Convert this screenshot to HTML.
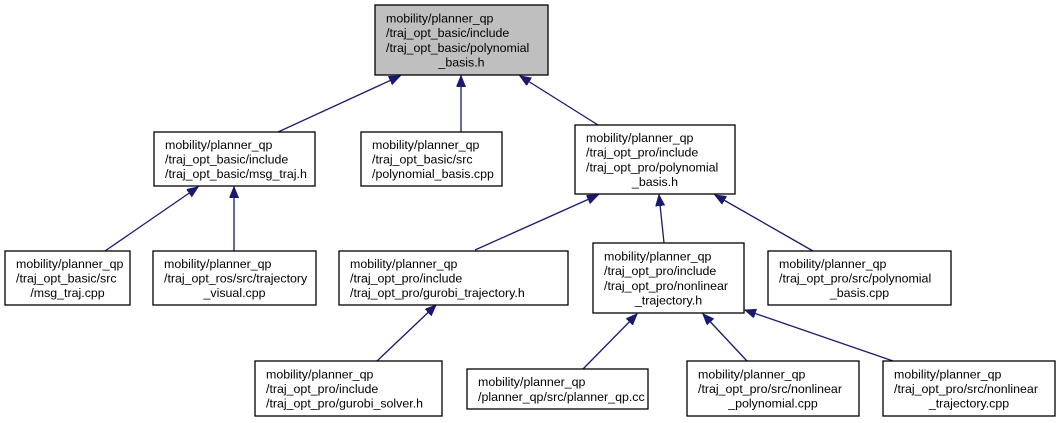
<!DOCTYPE html>
<html><head><meta charset="utf-8"><style>
html,body{margin:0;padding:0;background:#fff;}
svg{display:block;}
text{font-family:"Liberation Sans",Arial,sans-serif;font-size:12.4px;fill:#000;}
rect{stroke:#000;stroke-width:1.3;}
line{stroke:#191970;stroke-width:1.3;}
</style></head><body>
<svg width="1060" height="423" viewBox="0 0 1060 423" xmlns="http://www.w3.org/2000/svg">
<defs>
<marker id="a" markerUnits="userSpaceOnUse" markerWidth="14" markerHeight="10" refX="11" refY="4.5" orient="auto">
<polygon points="0,0 11,4.5 0,9" fill="#191970" stroke="#191970"/>
</marker>
</defs>
<g fill="none">
<line x1="278" y1="132" x2="400" y2="76" marker-end="url(#a)"/>
<line x1="461" y1="132" x2="461" y2="76" marker-end="url(#a)"/>
<line x1="598" y1="125" x2="520" y2="76" marker-end="url(#a)"/>
<line x1="105" y1="251" x2="198" y2="187" marker-end="url(#a)"/>
<line x1="234" y1="251" x2="234" y2="187" marker-end="url(#a)"/>
<line x1="475" y1="250" x2="598" y2="195" marker-end="url(#a)"/>
<line x1="664" y1="243" x2="659" y2="195" marker-end="url(#a)"/>
<line x1="813" y1="251" x2="715" y2="195" marker-end="url(#a)"/>
<line x1="377" y1="361" x2="436" y2="305" marker-end="url(#a)"/>
<line x1="583" y1="369" x2="637" y2="314" marker-end="url(#a)"/>
<line x1="747" y1="361" x2="703" y2="314" marker-end="url(#a)"/>
<line x1="893" y1="361" x2="745" y2="310" marker-end="url(#a)"/>
</g>
<rect x="375" y="5" width="173" height="70" fill="#bfbfbf"/>
<text x="386" y="22.5">mobility/planner_qp</text>
<text x="386" y="37.2">/traj_opt_basic/include</text>
<text x="386" y="51.9">/traj_opt_basic/polynomial</text>
<text x="461.5" y="66.6" text-anchor="middle">_basis.h</text>

<rect x="154" y="132" width="161" height="54" fill="#fff"/>
<text x="165" y="148.8">mobility/planner_qp</text>
<text x="165" y="163.5">/traj_opt_basic/include</text>
<text x="165" y="178.2">/traj_opt_basic/msg_traj.h</text>

<rect x="361" y="132" width="141" height="54" fill="#fff"/>
<text x="372" y="148.8">mobility/planner_qp</text>
<text x="372" y="163.5">/traj_opt_basic/src</text>
<text x="372" y="178.2">/polynomial_basis.cpp</text>

<rect x="575" y="125" width="160" height="69" fill="#fff"/>
<text x="586" y="142">mobility/planner_qp</text>
<text x="586" y="156.7">/traj_opt_pro/include</text>
<text x="586" y="171.4">/traj_opt_pro/polynomial</text>
<text x="655" y="186.1" text-anchor="middle">_basis.h</text>

<rect x="5" y="251" width="125" height="54" fill="#fff"/>
<text x="16" y="267.8">mobility/planner_qp</text>
<text x="16" y="282.5">/traj_opt_basic/src</text>
<text x="67.5" y="297.2" text-anchor="middle">/msg_traj.cpp</text>

<rect x="153" y="251" width="163" height="54" fill="#fff"/>
<text x="164" y="267.8">mobility/planner_qp</text>
<text x="164" y="282.5">/traj_opt_ros/src/trajectory</text>
<text x="234.5" y="297.2" text-anchor="middle">_visual.cpp</text>

<rect x="339" y="251" width="229" height="54" fill="#fff"/>
<text x="350" y="267.8">mobility/planner_qp</text>
<text x="350" y="282.5">/traj_opt_pro/include</text>
<text x="350" y="297.2">/traj_opt_pro/gurobi_trajectory.h</text>

<rect x="593" y="243" width="151" height="70" fill="#fff"/>
<text x="604" y="260.5">mobility/planner_qp</text>
<text x="604" y="275.2">/traj_opt_pro/include</text>
<text x="604" y="289.9">/traj_opt_pro/nonlinear</text>
<text x="668.5" y="304.6" text-anchor="middle">_trajectory.h</text>

<rect x="768" y="251" width="183" height="54" fill="#fff"/>
<text x="779" y="267.8">mobility/planner_qp</text>
<text x="779" y="282.5">/traj_opt_pro/src/polynomial</text>
<text x="859.5" y="297.2" text-anchor="middle">_basis.cpp</text>

<rect x="255" y="361" width="187" height="55" fill="#fff"/>
<text x="266" y="378.3">mobility/planner_qp</text>
<text x="266" y="393">/traj_opt_pro/include</text>
<text x="266" y="407.7">/traj_opt_pro/gurobi_solver.h</text>

<rect x="467" y="369" width="181" height="40" fill="#fff"/>
<text x="478" y="386.1">mobility/planner_qp</text>
<text x="478" y="400.8">/planner_qp/src/planner_qp.cc</text>

<rect x="687" y="361" width="172" height="55" fill="#fff"/>
<text x="698" y="378.3">mobility/planner_qp</text>
<text x="698" y="393">/traj_opt_pro/src/nonlinear</text>
<text x="773" y="407.7" text-anchor="middle">_polynomial.cpp</text>

<rect x="883" y="361" width="172" height="55" fill="#fff"/>
<text x="894" y="378.3">mobility/planner_qp</text>
<text x="894" y="393">/traj_opt_pro/src/nonlinear</text>
<text x="969" y="407.7" text-anchor="middle">_trajectory.cpp</text>
</svg>
</body></html>
